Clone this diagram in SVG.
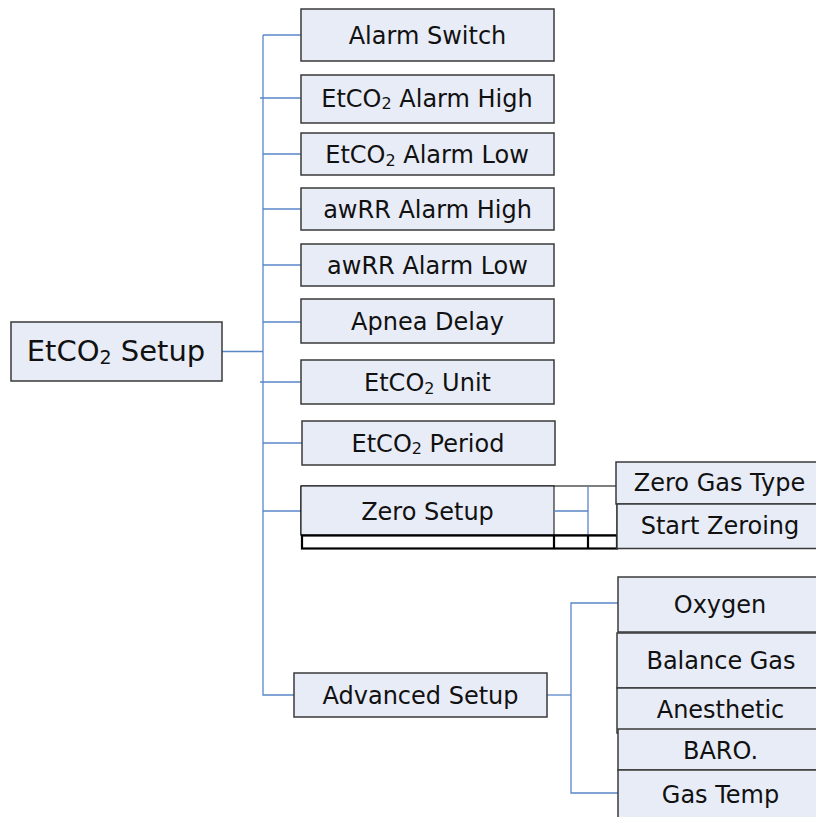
<svg xmlns="http://www.w3.org/2000/svg" width="816" height="817" viewBox="0 0 816 817">
<style>
.box{fill:#E8ECF7;stroke:#3a3a3a;stroke-width:1.5}
.cell{fill:#ffffff;stroke:#000000;stroke-width:1}
.thick{fill:none;stroke:#000000;stroke-width:2.2}
.t{font-family:"DejaVu Sans",Verdana,sans-serif;font-size:24px;fill:#111111;text-anchor:middle}
.big{font-size:29px}
.sub{font-size:16px}
.bsub{font-size:19px}
.con{fill:none;stroke:#5A86C8;stroke-width:1.3}
</style>
<rect width="816" height="817" fill="#ffffff"/>
<g id="connectors">
<path class="con" d="M263,35 V695 H294"/>
<path class="con" d="M263,35 H301"/>
<path class="con" d="M222,351.5 H263"/>
<path class="con" d="M260,98 H301"/>
<path class="con" d="M263,154 H301"/>
<path class="con" d="M263,209 H301"/>
<path class="con" d="M263,265 H301"/>
<path class="con" d="M263,322 H301"/>
<path class="con" d="M260,382 H301"/>
<path class="con" d="M263,443 H302"/>
<path class="con" d="M263,511 H301"/>
<path class="con" d="M547,695 H571"/>
<path class="con" d="M618,603 H571 V793 H618"/>
</g>
<g id="n-main"><rect class="box" x="11" y="322" width="211" height="59"/><text class="t big" x="116" y="361">EtCO<tspan class="bsub" dy="2.5">2</tspan><tspan dy="-2.5"> Setup</tspan></text></g>
<g id="n-alarm-switch"><rect class="box" x="301" y="9" width="253" height="52"/><text class="t" x="427.5" y="43.5">Alarm Switch</text></g>
<g id="n-etco2-high"><rect class="box" x="301" y="75" width="253" height="48"/><text class="t" x="427" y="106.5">EtCO<tspan class="sub" dy="2.5">2</tspan><tspan dy="-2.5"> Alarm High</tspan></text></g>
<g id="n-etco2-low"><rect class="box" x="301" y="133" width="253" height="42"/><text class="t" x="427" y="163">EtCO<tspan class="sub" dy="2.5">2</tspan><tspan dy="-2.5"> Alarm Low</tspan></text></g>
<g id="n-awrr-high"><rect class="box" x="301" y="188" width="253" height="42"/><text class="t" x="427.5" y="217.5">awRR Alarm High</text></g>
<g id="n-awrr-low"><rect class="box" x="301" y="244" width="253" height="42"/><text class="t" x="427.5" y="273.5">awRR Alarm Low</text></g>
<g id="n-apnea"><rect class="box" x="301" y="299" width="253" height="44"/><text class="t" x="427.5" y="329.5">Apnea Delay</text></g>
<g id="n-unit"><rect class="box" x="301" y="360" width="253" height="44"/><text class="t" x="427.5" y="391">EtCO<tspan class="sub" dy="2.5">2</tspan><tspan dy="-2.5"> Unit</tspan></text></g>
<g id="n-period"><rect class="box" x="302" y="421" width="253" height="44"/><text class="t" x="428" y="451.5">EtCO<tspan class="sub" dy="2.5">2</tspan><tspan dy="-2.5"> Period</tspan></text></g>
<g id="n-zero-setup">
<rect class="cell" x="301" y="486" width="316" height="49"/>
<rect class="box" x="301" y="486" width="253" height="49" style="stroke:#000;stroke-width:1"/>
<path class="con" d="M554,511 H588 M588,486 V535"/>
<rect class="thick" x="302" y="535.5" width="315" height="13"/>
<path class="thick" d="M554,535.5 V548.5 M588,535.5 V548.5"/>
<text class="t" x="427.5" y="520">Zero Setup</text>
</g>
<g id="n-zero-gas-type"><rect class="box" x="616" y="462" width="206" height="42"/><text class="t" x="719.5" y="491">Zero Gas Type</text></g>
<g id="n-start-zeroing"><rect class="box" x="617" y="504" width="205" height="44.5"/><text class="t" x="720" y="534">Start Zeroing</text></g>
<g id="n-advanced"><rect class="box" x="294" y="673" width="253" height="44"/><text class="t" x="420.5" y="703.5">Advanced Setup</text></g>
<g id="n-oxygen"><rect class="box" x="618" y="577" width="205" height="55"/><text class="t" x="720" y="613">Oxygen</text></g>
<g id="n-balance"><rect class="box" x="617" y="633" width="206" height="55"/><text class="t" x="721" y="669">Balance Gas</text></g>
<g id="n-anesthetic"><rect class="box" x="617" y="688" width="206" height="45"/><text class="t" x="720.5" y="718">Anesthetic</text></g>
<g id="n-baro"><rect class="box" x="618" y="729" width="205" height="41"/><text class="t" x="720.5" y="759">BARO.</text></g>
<g id="n-gas-temp"><rect class="box" x="618" y="770" width="205" height="50"/><text class="t" x="720.5" y="803">Gas Temp</text></g>
</svg>
